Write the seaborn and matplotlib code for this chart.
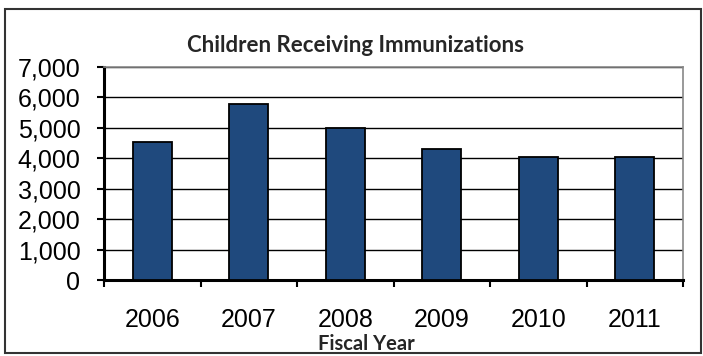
import matplotlib
matplotlib.use("Agg")
import matplotlib.pyplot as plt
import seaborn as sns
import pandas as pd
from matplotlib.patches import Rectangle
from matplotlib.ticker import FuncFormatter, FixedLocator

years = ["2006", "2007", "2008", "2009", "2010", "2011"]
children = [4550, 5800, 5000, 4300, 4030, 4030]
y_ticks = [0, 1000, 2000, 3000, 4000, 5000, 6000, 7000]

df = pd.DataFrame({"year": years, "children": children})

sns.set_theme(style="white")
plt.rcParams["font.family"] = ["Liberation Sans", "DejaVu Sans"]

W, H = 703, 356
fig = plt.figure(figsize=(W / 100, H / 100), dpi=100)
ax = fig.add_axes([104 / W, 1 - 280 / H, (683 - 104) / W, (280 - 67) / H])

sns.barplot(data=df, x="year", y="children", color="#1F497D", saturation=1,
            width=0.4, edgecolor="black", linewidth=1.3, ax=ax, zorder=3)

ax.set_ylim(0, 7000)
ax.set_xlim(-0.5, 5.5)
ax.set_yticks(y_ticks)
ax.yaxis.set_major_formatter(FuncFormatter(lambda v, p: f"{int(v):,}"))
ax.grid(axis="y", color="black", linewidth=1.0, zorder=0)
ax.set_axisbelow(True)

ax.xaxis.set_minor_locator(FixedLocator([i - 0.5 for i in range(len(years) + 1)]))
ax.tick_params(axis="x", which="major", length=0, labelsize=18, pad=20, colors="black")
ax.tick_params(axis="x", which="minor", length=5, width=1.5, color="black", direction="out", bottom=True)
ax.tick_params(axis="y", which="major", length=5, width=1.5, color="black", labelsize=18,
               direction="out", left=True, pad=12, colors="black")

for side in ["top", "right"]:
    ax.spines[side].set_color("#888888")
    ax.spines[side].set_linewidth(1.2)
for side in ["left", "bottom"]:
    ax.spines[side].set_color("black")
    ax.spines[side].set_linewidth(2.2)

ax.set_ylabel("")
ax.set_xlabel("")

fig.text(366 / W, 1 - 344 / H, "Fiscal Year", ha="center", va="center",
         fontsize=14.5, fontweight="bold", family=["Lato", "DejaVu Sans"])

fig.text(355 / W, 1 - 46 / H, "Children Receiving Immunizations", ha="center", va="center",
         fontsize=16, fontweight="bold", family=["Lato", "DejaVu Sans"])

fig.patches.append(Rectangle((5 / W, 1 - 353 / H), (701 - 5) / W, (353 - 9) / H,
                             transform=fig.transFigure, fill=False, edgecolor="#333333",
                             linewidth=1.5))

fig.savefig("out.png", dpi=100)
